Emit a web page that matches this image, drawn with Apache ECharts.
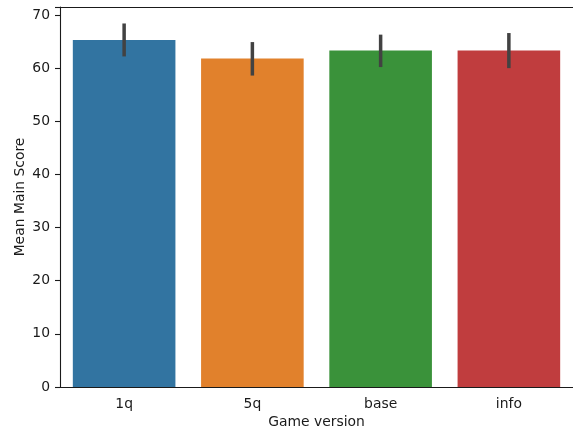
<!DOCTYPE html>
<html>
<head>
<meta charset="utf-8">
<script src="https://cdn.jsdelivr.net/npm/echarts@6/dist/echarts.min.js"></script>
<style>html,body{margin:0;padding:0;background:#fff}#c{width:573px;height:434px}</style>
</head>
<body>
<div id="c"></div>
<script>
const categories = ['1q', '5q', 'base', 'info'];
const means = [65.3, 61.8, 63.3, 63.3];
const ciLow = [62.2, 58.6, 60.2, 60.0];
const ciHigh = [68.4, 64.9, 66.3, 66.6];
const colors = ['#3274a1', '#e1812c', '#3a923a', '#c03d3e'];
const yTicks = [0, 10, 20, 30, 40, 50, 60, 70];

const chart = echarts.init(document.getElementById('c'));
const font = 'DejaVu Sans';
const fs = 13.9;
const ink = '#1a1a1a';
chart.setOption({
  animation: false,
  grid: { left: 60, width: 514, top: 7, bottom: 44 },
  xAxis: [{
    type: 'category',
    data: categories,
    name: 'Game version',
    nameLocation: 'middle',
    nameGap: 28,
    nameMoveOverlap: false,
    nameTextStyle: { fontFamily: font, fontSize: fs, color: ink },
    axisLine: { lineStyle: { color: ink, width: 1.1 } },
    axisTick: { alignWithLabel: true, length: 5, lineStyle: { color: ink, width: 1.1 } },
    axisLabel: { fontFamily: font, fontSize: fs, color: ink, margin: 10 },
    splitLine: { show: false }
  }, {
    type: 'category',
    data: categories,
    position: 'top',
    axisLine: { show: true, lineStyle: { color: ink, width: 1.1 } },
    axisTick: { show: false },
    axisLabel: { show: false },
    splitLine: { show: false }
  }],
  yAxis: {
    type: 'value',
    min: 0,
    max: 71.5,
    interval: 10,
    name: 'Mean Main Score',
    nameLocation: 'middle',
    nameGap: 33,
    nameMoveOverlap: false,
    nameTextStyle: { fontFamily: font, fontSize: fs, color: ink },
    axisLine: { show: true, lineStyle: { color: ink, width: 1.1 } },
    axisTick: { show: true, length: 5, lineStyle: { color: ink, width: 1.1 } },
    axisLabel: { fontFamily: font, fontSize: fs, color: ink, margin: 10,
      formatter: v => yTicks.includes(v) ? String(v) : '' },
    splitLine: { show: false }
  },
  series: [
    {
      type: 'bar',
      barWidth: '80%',
      data: means.map((v, i) => ({ value: v, itemStyle: { color: colors[i] } }))
    },
    {
      type: 'custom',
      data: categories.map((c, i) => [i, ciLow[i], ciHigh[i]]),
      renderItem: function (params, api) {
        const lo = api.coord([api.value(0), api.value(1)]);
        const hi = api.coord([api.value(0), api.value(2)]);
        return {
          type: 'line',
          shape: { x1: lo[0], y1: lo[1], x2: hi[0], y2: hi[1] },
          style: { stroke: '#424242', lineWidth: 3.5 }
        };
      },
      z: 10
    }
  ]
});
</script>
</body>
</html>
